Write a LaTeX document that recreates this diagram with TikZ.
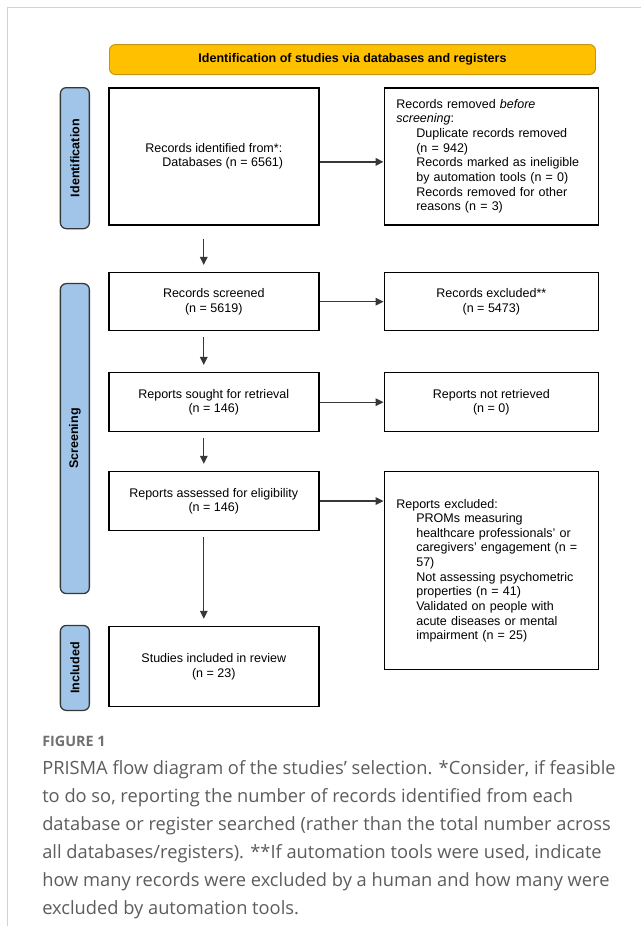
\documentclass[tikz,border=0pt]{standalone}
\usepackage{fontspec}
\setmainfont{Liberation Sans}
\newfontfamily\captionfont{Open Sans}
\usepackage{tikz}
\usetikzlibrary{
  arrows.meta,
  positioning,
  calc
}
\definecolor{PhaseBlue}{RGB}{160,197,232}
\definecolor{HeadGold}{RGB}{255,192,0}
\definecolor{HeadEdge}{RGB}{196,150,20}
\definecolor{LineGray}{RGB}{55,55,55}
\definecolor{FrameGray}{RGB}{210,210,210}
\definecolor{CaptionGray}{RGB}{92,92,92}
\definecolor{FigGray}{RGB}{112,112,112}
\newcommand{\flowfont}{\fontsize{8.9pt}{10.4pt}\selectfont}
\tikzset{
  flowbox/.style={
    draw=black,
    fill=white,
    line width=1.1pt,
    align=center,
    font=\flowfont,
    inner xsep=3mm,
    inner ysep=1mm
  },
  leftbox/.style={flowbox,minimum width=52.5mm},
  rightbox/.style={flowbox,minimum width=53.5mm},
  listbox/.style={flowbox,align=left,text width=47.5mm},
  phasebox/.style={
    draw=LineGray,
    fill=PhaseBlue,
    line width=0.9pt,
    rounded corners=1.5mm,
    minimum width=7.25mm,
    inner sep=0pt,
    font=\flowfont\bfseries
  },
  headbox/.style={
    draw=HeadEdge,
    fill=HeadGold,
    line width=0.7pt,
    rounded corners=1.5mm,
    minimum width=121.5mm,
    minimum height=7.5mm,
    font=\flowfont\bfseries
  },
  arrow/.style={-{Triangle[length=2mm,width=1.9mm]},line width=0.9pt,draw=LineGray},
  downarrow/.style={arrow,shorten <=1.5mm,shorten >=1.75mm}
}

\begin{document}
\begin{tikzpicture}
  \useasboundingbox (0,0) rectangle (160.25mm,-231.5mm);
  \draw[FrameGray, line width=0.4mm] (1.9mm,-231.5mm) -- (1.9mm,-1.9mm) -- (160.25mm,-1.9mm);

  \node[leftbox, minimum height=34.25mm, anchor=north west] (ident) at (27mm,-21.75mm)
    {Records identified from*:\\ \hspace*{4.5mm}Databases (n = 6561)};
  \node[leftbox, below=11.6mm of ident, minimum height=14.5mm] (screen) {Records screened\\(n = 5619)};
  \node[leftbox, below=10.1mm of screen, minimum height=14.75mm] (sought) {Reports sought for retrieval\\(n = 146)};
  \node[leftbox, below=9.6mm of sought, minimum height=14.75mm] (assess) {Reports assessed for eligibility\\(n = 146)};
  \node[leftbox, below=23.6mm of assess, minimum height=20mm] (incl) {Studies included in review\\(n = 23)};

  \node[listbox, right=16mm of ident, minimum height=34.25mm] (remv)
    {Records removed \textit{before}\\ \textit{screening}:\\
     \hspace*{5mm}Duplicate records removed\\ \hspace*{5mm}(n = 942)\\
     \hspace*{5mm}Records marked as ineligible\\ \hspace*{5mm}by automation tools (n = 0)\\
     \hspace*{5mm}Records removed for other\\ \hspace*{5mm}reasons (n = 3)};
  \node[rightbox, right=16mm of screen, minimum height=14.5mm] (excl) {Records excluded**\\(n = 5473)};
  \node[rightbox, right=16mm of sought, minimum height=14.75mm] (notret) {Reports not retrieved\\(n = 0)};
  \node[listbox, right=16mm of assess.north east, anchor=north west, minimum height=49.5mm] (rexcl)
    {Reports excluded:\\
     \hspace*{5mm}PROMs measuring\\ \hspace*{5mm}healthcare professionals’ or\\
     \hspace*{5mm}caregivers’ engagement (n =\\ \hspace*{5mm}57)\\
     \hspace*{5mm}Not assessing psychometric\\ \hspace*{5mm}properties (n = 41)\\
     \hspace*{5mm}Validated on people with\\ \hspace*{5mm}acute diseases or mental\\
     \hspace*{5mm}impairment (n = 25)};

  \node[headbox, anchor=south west] (head) at ($(ident.north west)+(0.25mm,3mm)$)
    {Identification of studies via databases and registers};

  \node[phasebox, minimum height=35.25mm, anchor=north east] (idphase) at ($(ident.north west)+(-4.5mm,0)$)
    {\rotatebox{90}{Identification}};
  \node[phasebox, minimum height=77.5mm, anchor=north east] (scphase) at ($(screen.north west)+(-4.5mm,-2.75mm)$)
    {\rotatebox{90}{Screening}};
  \node[phasebox, minimum height=21.25mm, anchor=north east] (inphase) at ($(incl.north west)+(-4.5mm,0.25mm)$)
    {\rotatebox{90}{Included}};

  \draw[arrow] ($(ident.east)+(0,-1.4mm)$) -- ($(remv.west)+(0,-1.4mm)$);
  \draw[arrow] (screen) -- (excl);
  \draw[arrow] (sought) -- (notret);
  \draw[arrow] (assess.east) -- (assess.east -| rexcl.west);

  \draw[downarrow, shorten <=3.25mm] ($(ident.south)+(-2.5mm,0)$) -- ($(screen.north)+(-2.5mm,0)$);
  \draw[downarrow] ($(screen.south)+(-2.5mm,0)$) -- ($(sought.north)+(-2.5mm,0)$);
  \draw[downarrow] ($(sought.south)+(-2.5mm,0)$) -- ($(assess.north)+(-2.5mm,0)$);
  \draw[downarrow] ($(assess.south)+(-2.5mm,0)$) -- ($(incl.north)+(-2.5mm,0)$);

  \node[anchor=base west, inner sep=0pt, text=FigGray,
        font=\captionfont\fontsize{10.2pt}{12pt}\selectfont\bfseries] (fignum) at (10.5mm,-186.5mm) {FIGURE 1};
  \node[anchor=base west, inner sep=0pt, align=left, text=CaptionGray,
        font=\captionfont\fontsize{13pt}{19.9pt}\selectfont] (figcap) at (10.5mm,-228.6mm)
    {PRISMA flow diagram of the studies’ selection. *Consider, if feasible\\
     to do so, reporting the number of records identified from each\\
     database or register searched (rather than the total number across\\
     all databases/registers). **If automation tools were used, indicate\\
     how many records were excluded by a human and how many were\\
     excluded by automation tools.};
\end{tikzpicture}
\end{document}
